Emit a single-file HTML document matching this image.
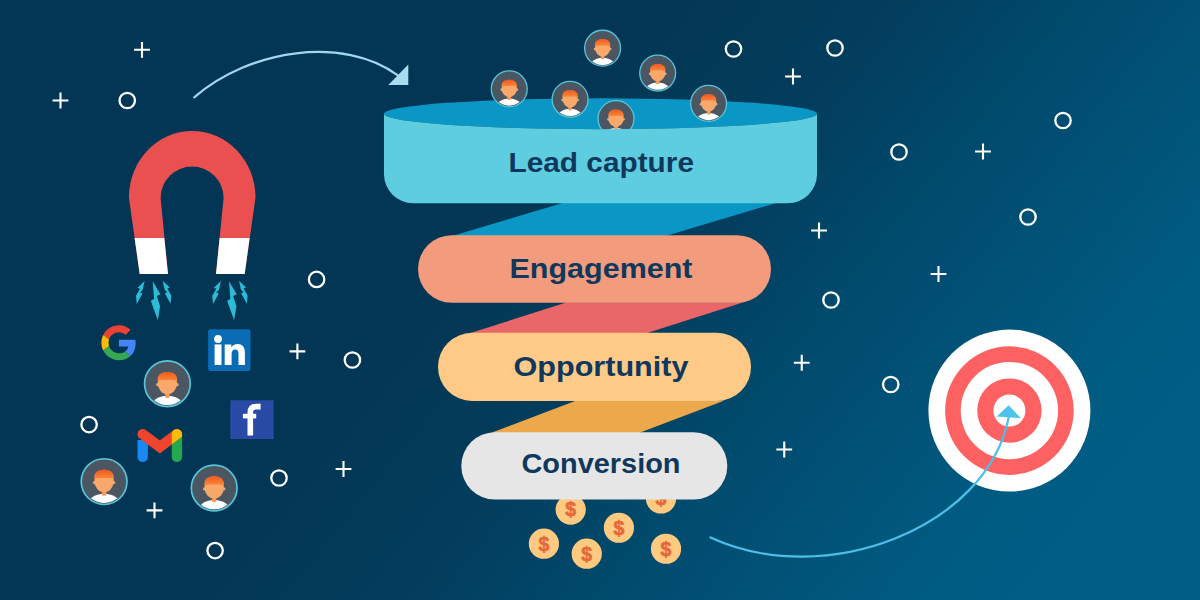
<!DOCTYPE html>
<html><head><meta charset="utf-8">
<style>
html,body{margin:0;padding:0;width:1200px;height:600px;overflow:hidden;background:#023654;}
svg{display:block;}
text{font-family:"Liberation Sans",sans-serif;font-weight:bold;}
</style></head>
<body>
<svg width="1200" height="600" viewBox="0 0 1200 600">
<defs>
<linearGradient id="bg" gradientUnits="userSpaceOnUse" x1="0" y1="0" x2="1018" y2="824">
<stop offset="0" stop-color="#023654"/>
<stop offset="0.38" stop-color="#023654"/>
<stop offset="0.46" stop-color="#033A57"/>
<stop offset="0.54" stop-color="#033E5F"/>
<stop offset="0.64" stop-color="#004A6C"/>
<stop offset="0.705" stop-color="#024F74"/>
<stop offset="0.82" stop-color="#005A80"/>
<stop offset="0.845" stop-color="#005C83"/>
<stop offset="1" stop-color="#005E87"/>
</linearGradient>
<g id="plus"><path d="M-7.9,0H7.9M0,-7.9V7.9" stroke="#fff" stroke-width="2.1" fill="none"/></g>
<g id="ring"><circle r="7.7" stroke="#fff" stroke-width="2.3" fill="none"/></g>
<clipPath id="avc"><circle r="18"/></clipPath>
<linearGradient id="hair" x1="0" y1="0" x2="0" y2="1"><stop offset="0" stop-color="#F0581F"/><stop offset="1" stop-color="#F98A3A"/></linearGradient>
<g id="av">
<circle r="19.3" fill="#4A5662" stroke="#58C6DA" stroke-width="1.4"/>
<g clip-path="url(#avc)">
<ellipse cx="0" cy="21" rx="14.5" ry="10.8" fill="#fff"/>
<rect x="-1.9" y="5" width="3.8" height="7" rx="1.2" fill="#F39A5C"/>
<circle cx="-8.1" cy="0.8" r="1.4" fill="#F9A86B"/>
<circle cx="8.1" cy="0.8" r="1.4" fill="#F9A86B"/>
<ellipse cx="0" cy="-0.5" rx="8.2" ry="9.4" fill="#F9A86B"/>
<path d="M-8.3,-2.2C-8.6,-8.4 -4.8,-9.9 0,-9.9C4.8,-9.9 8.6,-8.4 8.3,-2.2C5.5,-3.3 -5.5,-3.3 -8.3,-2.2Z" fill="url(#hair)"/>
</g>
</g>
<g id="sbolt"><path d="M0,0L7,6.7L4.6,7.7L8.6,14.7L7.9,22.9L2.1,12.4L4.6,11.4L1.9,8.8Z" fill="#2BBCD8"/></g>
<g id="bolt"><path d="M0,0L7.7,13L4.1,14.6L7.4,25L5.1,39L-1.9,19.5L1.4,17.6Z" fill="#2BBCD8"/></g>
<g id="coin"><circle r="15.1" fill="#FDCA80"/><text x="0" y="6.8" font-size="19.5" text-anchor="middle" fill="#E4683D" stroke="#E4683D" stroke-width="0.6">$</text></g>
</defs>

<rect width="1200" height="600" fill="url(#bg)"/>

<!-- plus signs -->
<use href="#plus" x="142" y="49.8"/>
<use href="#plus" x="60.5" y="100.5"/>
<use href="#plus" x="297.4" y="351.4"/>
<use href="#plus" x="343.5" y="469"/>
<use href="#plus" x="154.5" y="510.4"/>
<use href="#plus" x="793" y="76.5"/>
<use href="#plus" x="983" y="151.5"/>
<use href="#plus" x="819" y="230.5"/>
<use href="#plus" x="938.5" y="274"/>
<use href="#plus" x="801.75" y="362.75"/>
<use href="#plus" x="784.25" y="449.5"/>
<!-- rings -->
<use href="#ring" x="127.25" y="100.5"/>
<use href="#ring" x="316.6" y="279.4"/>
<use href="#ring" x="352.4" y="360"/>
<use href="#ring" x="89.1" y="424.6"/>
<use href="#ring" x="279" y="478"/>
<use href="#ring" x="215.1" y="550.6"/>
<use href="#ring" x="733.5" y="49"/>
<use href="#ring" x="835" y="48"/>
<use href="#ring" x="1063" y="120.5"/>
<use href="#ring" x="899" y="152"/>
<use href="#ring" x="1028" y="217"/>
<use href="#ring" x="831" y="300"/>
<use href="#ring" x="890.75" y="384.5"/>

<!-- top arrow -->
<path d="M194.2,97.4 C249.3,49.3 343.5,35.4 397.5,75.2" stroke="#9ED8EE" stroke-width="2.2" fill="none" stroke-linecap="round"/>
<path d="M408.3,64.4L408.3,85L388.3,85Z" fill="#A6DDF0"/>

<!-- magnet -->
<path d="M139.7,274 L128.9,197.5 A63.3,66.6 0 0 1 255.5,197.5 L244.7,274 L216,274 L223.6,198 A31.5,31.5 0 0 0 160.6,198 L168,274 Z" fill="#EB5051"/>
<path d="M134.6,238 L164.3,238 L168,274 L139.7,274 Z" fill="#fff"/>
<path d="M219.6,238 L249.6,238 L244.7,274 L216,274 Z" fill="#fff"/>
<use href="#bolt" transform="translate(152.7,281.3)"/>
<use href="#sbolt" transform="translate(144.6,281) scale(-1,1)"/>
<use href="#sbolt" transform="translate(162.7,280.8)"/>
<use href="#bolt" transform="translate(229,281.3)"/>
<use href="#sbolt" transform="translate(220.9,281) scale(-1,1)"/>
<use href="#sbolt" transform="translate(239,280.8)"/>

<!-- funnel -->
<g id="funnel">
<!-- bands -->
<path d="M564.3,202.5 L777.8,202.5 L665.6,236 L452.1,236 Z" fill="#0A97C5"/>
<path d="M566.9,302.3 L743.5,302.3 L645.6,333.6 L468.9,333.6 Z" fill="#E96669"/>
<path d="M576.4,400.4 L724.6,400.4 L638.9,433 L490.7,433 Z" fill="#EDA84C"/>
<!-- coins -->
<use href="#coin" x="543.9" y="543.7"/>
<use href="#coin" x="570.7" y="509.6"/>
<use href="#coin" x="586.75" y="553.7"/>
<use href="#coin" x="618.9" y="527.75"/>
<use href="#coin" x="661" y="498.5"/>
<use href="#coin" x="666" y="548.75"/>
<!-- top ellipse -->
<ellipse cx="600.5" cy="113.75" rx="216.5" ry="15.4" fill="#0A97C5"/>
<use href="#av" transform="translate(616,118.6) scale(0.93)"/>
<path d="M384,113.75 A216.5,15.4 0 0 0 817,113.75 L817,174.2 A29,29 0 0 1 788,203.2 L413,203.2 A29,29 0 0 1 384,174.2 Z" fill="#5ECDE0"/>
<!-- pills -->
<rect x="418" y="235.2" width="353" height="67.6" rx="33.8" fill="#F29B7D"/>
<rect x="438" y="332.8" width="313" height="68.1" rx="34" fill="#FFCA87"/>
<rect x="461.3" y="432.2" width="266" height="67.3" rx="33.6" fill="#E6E6E6"/>
<!-- labels -->
<g fill="#0F385C" font-size="27.5">
<text x="508.5" y="172" textLength="185.5" lengthAdjust="spacingAndGlyphs">Lead capture</text>
<text x="509.5" y="278.3" textLength="183" lengthAdjust="spacingAndGlyphs">Engagement</text>
<text x="513.5" y="376.3" textLength="175" lengthAdjust="spacingAndGlyphs">Opportunity</text>
<text x="521.5" y="473.3" textLength="159" lengthAdjust="spacingAndGlyphs">Conversion</text>
</g>
<!-- avatars above -->
<use href="#av" transform="translate(509.25,88.9) scale(0.93)"/>
<use href="#av" transform="translate(570.1,99.3) scale(0.93)"/>
<use href="#av" transform="translate(602.6,48.2) scale(0.93)"/>
<use href="#av" transform="translate(657.7,73.1) scale(0.93)"/>
<use href="#av" transform="translate(708.6,103.4) scale(0.93)"/>
</g>

<!-- left avatars -->
<use href="#av" transform="translate(167.4,383.7) scale(1.185)"/>
<use href="#av" transform="translate(104.1,481.6) scale(1.185)"/>
<use href="#av" transform="translate(214.2,488) scale(1.185)"/>

<!-- google G -->
<g transform="translate(101.4,325.25) scale(0.7292)">
<path fill="#EA4335" d="M24 9.5c3.54 0 6.71 1.22 9.21 3.6l6.85-6.85C35.9 2.38 30.47 0 24 0 14.62 0 6.51 5.38 2.56 13.22l7.98 6.19C12.43 13.72 17.74 9.5 24 9.5z"/>
<path fill="#4285F4" d="M46.98 24.55c0-1.57-.15-3.09-.38-4.55H24v9.02h12.94c-.58 2.96-2.26 5.48-4.78 7.18l7.73 6c4.51-4.18 7.09-10.36 7.09-17.650z"/>
<path fill="#FBBC05" d="M10.53 28.59c-.48-1.45-.76-2.99-.76-4.59s.27-3.14.76-4.59l-7.98-6.190C.92 16.46 0 20.12 0 24c0 3.88.92 7.54 2.56 10.78l7.97-6.19z"/>
<path fill="#34A853" d="M24 48c6.48 0 11.93-2.13 15.89-5.81l-7.730-6c-2.15 1.45-4.92 2.3-8.16 2.3-6.26 0-11.57-4.22-13.47-9.91l-7.98 6.19C6.51 42.62 14.62 48 24 48z"/>
</g>

<!-- linkedin -->
<rect x="208.1" y="329.3" width="42.4" height="41.7" rx="2" fill="#0B6BB5"/>
<circle cx="218" cy="339" r="3.9" fill="#fff"/>
<rect x="214.6" y="344.4" width="6.9" height="20.6" fill="#fff"/>
<path d="M224.7,365V344.4H231.3V347.6C232.6,345.3 234.8,344 237.6,344C242.3,344 244.9,347 244.9,352.6V365H238.5V353.8C238.5,351 237.5,349.6 235.2,349.6C232.7,349.6 231.6,351.4 231.6,354.2V365Z" fill="#fff"/>

<!-- facebook -->
<rect x="230.3" y="400.3" width="43.3" height="38.7" fill="#2A4BA5"/>
<path d="M250.3,435.5V412.5C250.3,408.4 252.6,406.6 256,406.6H260.6" stroke="#fff" stroke-width="5.6" fill="none"/>
<rect x="242.9" y="413.8" width="13.3" height="4.6" fill="#fff"/>

<!-- gmail -->
<path d="M137.5,440H147.9V456.9A5.2,5.2 0 0 1 137.5,456.9Z" fill="#1A88F2"/>
<polyline points="142.7,434.2 159.8,447 176.9,434.2" stroke="#F0442F" stroke-width="10.4" fill="none" stroke-linecap="round" stroke-linejoin="miter"/>
<path d="M171.7,444.6L182.1,436.8V456.9A5.2,5.2 0 0 1 171.7,456.9Z" fill="#22A94E"/>
<path d="M171.7,444.6V434.2A5.2,5.2 0 0 1 182.1,434.2V436.8Z" fill="#FBBC04"/>

<!-- target -->
<circle cx="1009.4" cy="410.6" r="81" fill="#fff"/>
<circle cx="1009.4" cy="410.6" r="64.3" fill="#FE6161"/>
<circle cx="1009.4" cy="410.6" r="48.7" fill="#fff"/>
<circle cx="1009.4" cy="410.6" r="32.2" fill="#FE6161"/>
<circle cx="1009.4" cy="410.6" r="16" fill="#fff"/>
<path d="M710.5,537.5 C826,590.9 987.6,527 1008.7,417.3" stroke="#4DC0EA" stroke-width="2.2" fill="none" stroke-linecap="round"/>
<path d="M1008.7,405.3L996.7,416.5L1020.7,418.1Z" fill="#4DC3EA"/>

</svg>
</body></html>
